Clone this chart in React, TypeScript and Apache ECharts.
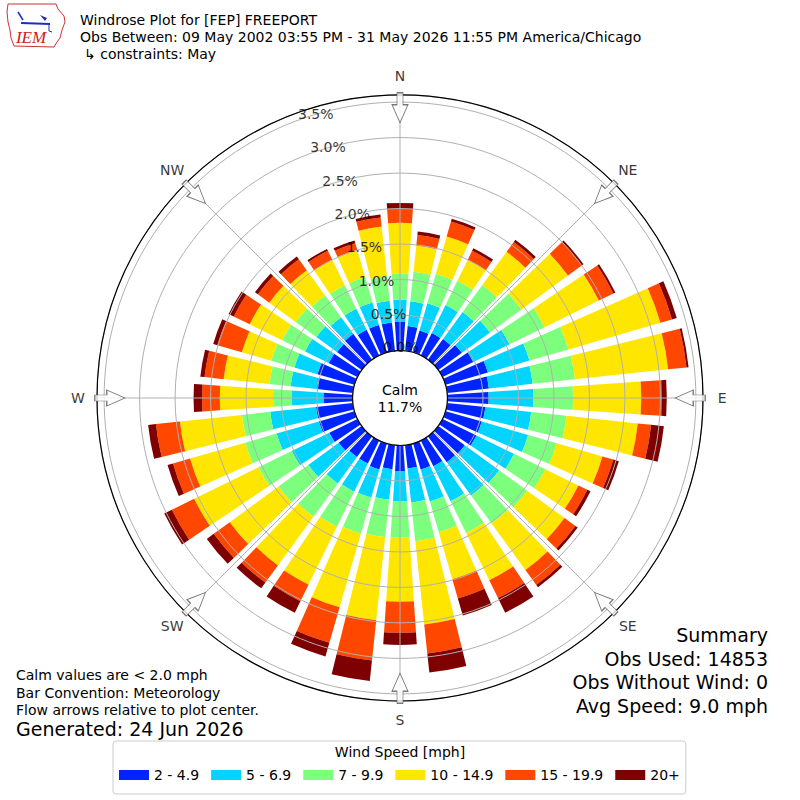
import React, { useEffect, useRef } from "react";
import * as echarts from "echarts";

// ---- data ----
const directions = [
  "0", "10", "20", "30", "40", "50", "60", "70", "80", "90", "100", "110",
  "120", "130", "140", "150", "160", "170", "180", "190", "200", "210", "220", "230",
  "240", "250", "260", "270", "280", "290", "300", "310", "320", "330", "340", "350",
];
const speedBins = ["2 - 4.9", "5 - 6.9", "7 - 9.9", "10 - 14.9", "15 - 19.9", "20+"];
const binColors = ["#0024ff", "#00d4ff", "#7cff7c", "#ffe600", "#ff4700", "#7f0000"];

const bin2to5 = [0.41, 0.35, 0.32, 0.35, 0.36, 0.41, 0.48, 0.62, 0.59, 0.58, 0.54, 0.53, 0.53, 0.46, 0.45, 0.40, 0.38, 0.33, 0.36, 0.34, 0.38, 0.36, 0.36, 0.40, 0.44, 0.52, 0.52, 0.41, 0.51, 0.54, 0.45, 0.43, 0.45, 0.40, 0.40, 0.40];
const bin5to7 = [0.31, 0.35, 0.40, 0.44, 0.47, 0.49, 0.57, 0.61, 0.62, 0.63, 0.65, 0.68, 0.59, 0.60, 0.58, 0.55, 0.47, 0.48, 0.43, 0.43, 0.41, 0.44, 0.46, 0.53, 0.59, 0.62, 0.65, 0.45, 0.37, 0.34, 0.37, 0.36, 0.29, 0.33, 0.33, 0.31];
const bin7to10 = [0.37, 0.42, 0.43, 0.38, 0.47, 0.55, 0.55, 0.57, 0.60, 0.56, 0.50, 0.42, 0.49, 0.49, 0.49, 0.50, 0.45, 0.55, 0.51, 0.53, 0.53, 0.55, 0.58, 0.52, 0.52, 0.46, 0.40, 0.26, 0.30, 0.34, 0.36, 0.36, 0.38, 0.37, 0.37, 0.35];
const bin10to15 = [0.71, 0.37, 0.55, 0.33, 0.58, 0.81, 0.85, 1.35, 1.32, 0.96, 1.01, 0.67, 0.52, 0.65, 0.81, 0.74, 0.69, 1.18, 0.90, 1.18, 1.08, 0.91, 0.85, 0.85, 1.01, 0.81, 0.88, 0.75, 0.65, 0.43, 0.51, 0.46, 0.44, 0.40, 0.40, 0.70];
const bin15to20 = [0.20, 0.15, 0.22, 0.14, 0.17, 0.24, 0.23, 0.17, 0.26, 0.29, 0.19, 0.16, 0.14, 0.19, 0.26, 0.28, 0.28, 0.41, 0.44, 0.57, 0.52, 0.26, 0.30, 0.28, 0.35, 0.25, 0.34, 0.25, 0.27, 0.36, 0.25, 0.20, 0.19, 0.14, 0.10, 0.13];
const bin20plus = [0.08, 0.05, 0.04, 0.04, 0.04, 0.03, 0.03, 0.07, 0.03, 0.07, 0.18, 0.08, 0.05, 0.04, 0.04, 0.23, 0.25, 0.27, 0.17, 0.29, 0.20, 0.18, 0.10, 0.12, 0.12, 0.08, 0.11, 0.12, 0.06, 0.06, 0.08, 0.05, 0.05, 0.03, 0.04, 0.04];
const binValues = [bin2to5, bin5to7, bin7to10, bin10to15, bin15to20, bin20plus];

const radialTicks = [0, 0.5, 1.0, 1.5, 2.0, 2.5, 3.0, 3.5];
const compassLabels = ["N", "NE", "E", "SE", "S", "SW", "W", "NW"];
const compassAngles = [0, 45, 90, 135, 180, 225, 270, 315];

const calmText = "Calm\n11.7%";
const titleLines = [
  "Windrose Plot for [FEP] FREEPORT",
  "Obs Between: 09 May 2002 03:55 PM - 31 May 2026 11:55 PM America/Chicago",
  "\u21b3 constraints: May",
];
const noteLines = [
  "Calm values are < 2.0 mph",
  "Bar Convention: Meteorology",
  "Flow arrows relative to plot center.",
];
const generatedText = "Generated: 24 Jun 2026";
const summaryLines = ["Summary", "Obs Used: 14853", "Obs Without Wind: 0", "Avg Speed: 9.0 mph"];
const legendTitle = "Wind Speed [mph]";

const FONT = '"DejaVu Sans", sans-serif';
const CX = 400;
const CY = 398;
const R_IN = 47.5;
const R_OUT = 303;
const R_MAX = 3.6;
const ARROW_R = 3.42;
const LABEL_R = 3.87;
const TICK_ANGLE = 340;

const arrowPath = "path://M5,0L11,0L11,12L16,12L8,30L0,12L5,12Z";

export default function App() {
  const ref = useRef<HTMLDivElement>(null);

  useEffect(() => {
    if (!ref.current) return;
    const chart = echarts.init(ref.current, undefined, { renderer: "svg" });

    const barSeries = speedBins.map((name, i) => ({
      name,
      type: "bar",
      coordinateSystem: "polar",
      polarIndex: 0,
      stack: "wind",
      barCategoryGap: "22%",
      data: binValues[i],
      itemStyle: { color: binColors[i] },
      z: 2,
      silent: true,
    }));

    const txt = (x: number, y: number, text: string, size: number, align: string, extra: any = {}) => ({
      type: "text",
      x,
      y,
      z: 10,
      style: {
        text,
        font: `${size}px ${FONT}`,
        fill: "#000",
        textAlign: align,
        textVerticalAlign: "middle",
        ...extra,
      },
    });

    const graphics: any[] = [];
    titleLines.forEach((t, i) => graphics.push(txt(i === 2 ? 84 : 80, 20 + i * 17, t, 14, "left")));
    noteLines.forEach((t, i) => graphics.push(txt(16, 675 + i * 17.5, t, 14, "left")));
    graphics.push(txt(16, 729, generatedText, 19, "left"));
    summaryLines.forEach((t, i) => graphics.push(txt(768, 635 + i * 23.5, t, 19, "right")));
    graphics.push(txt(CX, CY, calmText, 14, "center", { lineHeight: 17 }));
    graphics.push(txt(400, 752, legendTitle, 14, "center"));

    // IEM logo
    graphics.push({
      type: "polygon",
      shape: {
        points: [
          [8, 4], [56, 4], [58, 9], [64, 16], [65, 22], [62, 30], [60, 38], [57, 42], [54, 47],
          [14, 46], [11, 38], [10, 30], [8, 22], [7, 12],
        ],
      },
      style: { fill: "none", stroke: "#d03030", lineWidth: 1 },
    });
    graphics.push({
      type: "polyline",
      shape: { points: [[21, 23], [50, 24]] },
      style: { stroke: "#1a2fc0", lineWidth: 2 },
    });
    graphics.push({
      type: "polyline",
      shape: { points: [[18, 12], [23, 20]] },
      style: { stroke: "#1a2fc0", lineWidth: 1.5 },
    });
    graphics.push({
      type: "polygon",
      shape: { points: [[40, 15], [47, 18], [45, 21]] },
      style: { fill: "#1a2fc0" },
    });
    graphics.push({
      type: "polyline",
      shape: { points: [[49, 24], [49, 31], [52, 32]] },
      style: { stroke: "#1a2fc0", lineWidth: 1 },
    });
    graphics.push({
      type: "text",
      x: 31,
      y: 37,
      style: { text: "IEM", font: `italic 17px "Liberation Serif", serif`, fill: "#cc2020", textAlign: "center", textVerticalAlign: "middle" },
    });

    const option: any = {
      animation: false,
      backgroundColor: "#fff",
      textStyle: { fontFamily: FONT },
      polar: [
        { center: [CX, CY], radius: [R_IN, R_OUT] },
        { center: [CX, CY], radius: [R_IN, R_OUT] },
      ],
      angleAxis: [
        {
          polarIndex: 0,
          type: "category",
          data: directions,
          startAngle: 95,
          clockwise: true,
          show: false,
        },
        {
          polarIndex: 1,
          type: "value",
          min: 0,
          max: 360,
          interval: 45,
          startAngle: 90,
          clockwise: true,
          z: 3,
          axisLine: { show: true, lineStyle: { color: "#000", width: 1.2 } },
          axisTick: { show: false },
          axisLabel: { show: false },
          splitLine: { show: true, lineStyle: { color: "#b0b0b0", width: 1 } },
        },
      ],
      radiusAxis: [
        { polarIndex: 0, type: "value", min: 0, max: R_MAX, show: false },
        {
          polarIndex: 1,
          type: "value",
          min: 0,
          max: R_MAX,
          interval: 0.5,
          z: 3,
          axisLine: { show: false },
          axisTick: { show: false },
          axisLabel: { show: false },
          splitLine: { show: true, lineStyle: { color: "#b0b0b0", width: 1 } },
        },
      ],
      legend: {
        data: speedBins,
        orient: "horizontal",
        left: 113,
        top: 741,
        itemWidth: 30,
        itemHeight: 10,
        itemGap: 12,
        icon: "rect",
        selectedMode: false,
        padding: [27, 6, 12, 6],
        borderColor: "#cccccc",
        borderWidth: 1,
        borderRadius: 3,
        backgroundColor: "#fff",
        textStyle: { fontSize: 14, fontFamily: FONT, color: "#000" },
      },
      series: [
        ...barSeries,
        {
          type: "scatter",
          coordinateSystem: "polar",
          polarIndex: 1,
          clip: false,
          silent: true,
          z: 6,
          symbol: arrowPath,
          symbolSize: [16, 30],
          itemStyle: { color: "#fff", borderColor: "#555", borderWidth: 1 },
          data: compassAngles.map((a) => ({ value: [ARROW_R, a], symbolRotate: -a })),
        },
        {
          type: "scatter",
          coordinateSystem: "polar",
          polarIndex: 1,
          clip: false,
          silent: true,
          z: 6,
          symbolSize: 1,
          itemStyle: { color: "rgba(0,0,0,0)" },
          label: {
            show: true,
            position: "inside",
            fontSize: 14,
            fontFamily: FONT,
            color: "#000",
            formatter: (p: any) => compassLabels[p.dataIndex],
          },
          data: compassAngles.map((a) => [LABEL_R, a]),
        },
        {
          type: "scatter",
          coordinateSystem: "polar",
          polarIndex: 1,
          clip: false,
          silent: true,
          z: 7,
          symbolSize: 1,
          itemStyle: { color: "rgba(0,0,0,0)" },
          label: {
            show: true,
            position: "inside",
            offset: [17, -6],
            fontSize: 14,
            fontFamily: FONT,
            color: "#000",
            formatter: (p: any) => `${radialTicks[p.dataIndex].toFixed(1)}%`,
          },
          data: radialTicks.map((v) => [v, TICK_ANGLE]),
        },
      ],
      graphic: graphics,
    };

    chart.setOption(option);
    return () => chart.dispose();
  }, []);

  return (
    <div
      ref={ref}
      style={{ position: "absolute", left: 0, top: 0, width: 800, height: 800 }}
    />
  );
}
